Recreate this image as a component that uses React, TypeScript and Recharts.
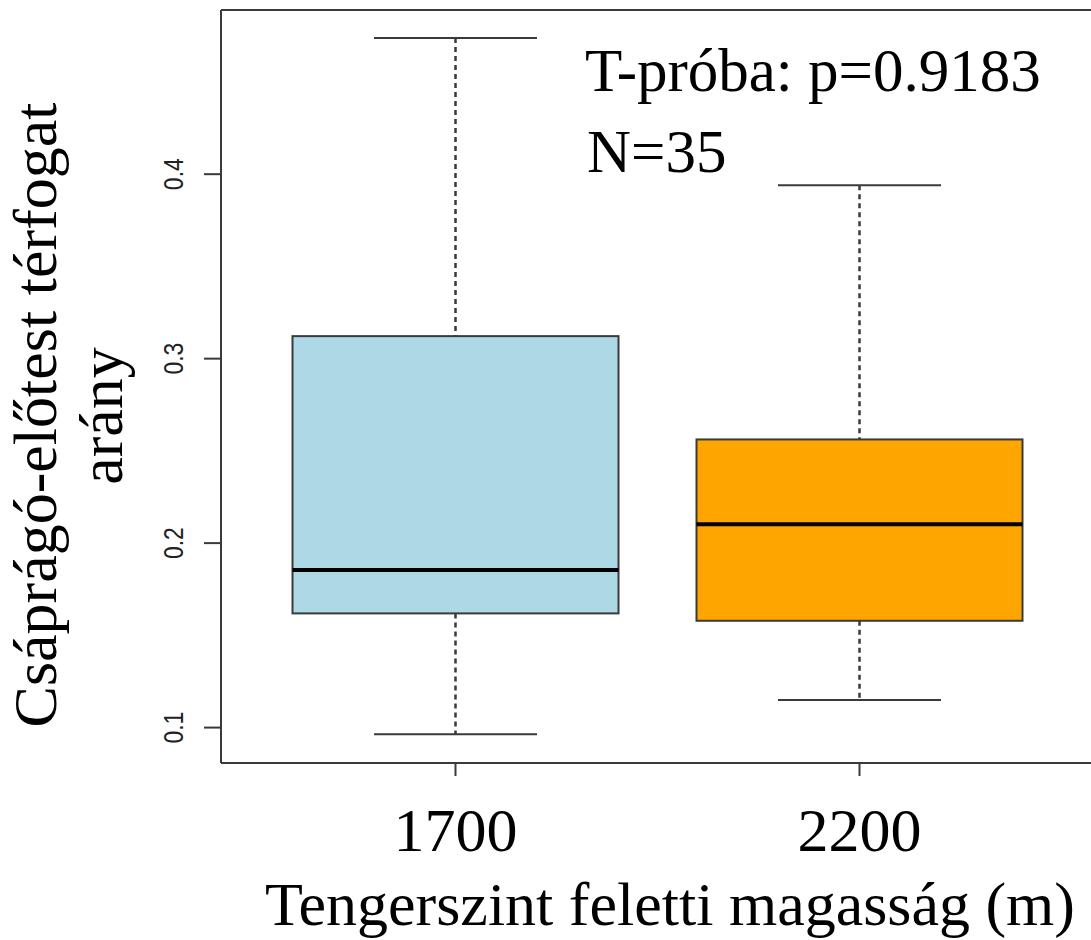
import React from 'react';
import { ComposedChart, Bar, XAxis, YAxis, Label, ReferenceLine } from 'recharts';

// box plot stats
const groups = ['1700', '2200'];
const whiskerLow = [0.0964, 0.115];
const q1 = [0.1619, 0.1579];
const median = [0.1854, 0.2102];
const q3 = [0.3122, 0.2562];
const whiskerHigh = [0.4738, 0.394];
const boxColors = ['#ADD8E6', '#FFA500'];
const yTicks = [0.1, 0.2, 0.3, 0.4];
const yDomain = [0.0808, 0.489];

const pValue = '0.9183';
const sampleSize = 35;

const SERIF = '"Liberation Serif", "Times New Roman", serif';
const SANS = '"Liberation Sans", Arial, sans-serif';
const LINE = '#3a3a3a';

const data = groups.map((g, i) => ({
    group: g,
    range: [whiskerLow[i], whiskerHigh[i]],
    q1: q1[i],
    median: median[i],
    q3: q3[i],
    fill: boxColors[i],
}));

const BoxShape = (props: any) => {
    const { x, y, width, height, payload } = props;
    const [lo, hi] = payload.range;
    const top = Math.min(y, y + height);
    const bottom = Math.max(y, y + height);
    // map a value onto the bar's pixel span (bar spans lo..hi)
    const toY = (v: number) => top + ((hi - v) / (hi - lo)) * (bottom - top);
    const cx = x + width / 2;
    const capHalf = width / 4;
    const yQ1 = toY(payload.q1);
    const yQ3 = toY(payload.q3);
    const yMed = toY(payload.median);
    return (
        <g>
            <line x1={cx} x2={cx} y1={top} y2={yQ3} stroke={LINE} strokeWidth={2.5} strokeDasharray="5 4" />
            <line x1={cx} x2={cx} y1={yQ1} y2={bottom} stroke={LINE} strokeWidth={2.5} strokeDasharray="5 4" />
            <line x1={cx - capHalf} x2={cx + capHalf} y1={top} y2={top} stroke={LINE} strokeWidth={2} />
            <line x1={cx - capHalf} x2={cx + capHalf} y1={bottom} y2={bottom} stroke={LINE} strokeWidth={2} />
            <rect x={x} y={yQ3} width={width} height={yQ1 - yQ3} fill={payload.fill} stroke={LINE} strokeWidth={2} />
            <line x1={x} x2={x + width} y1={yMed} y2={yMed} stroke="#000" strokeWidth={4} />
        </g>
    );
};

const YTick = (props: any) => {
    const { y, payload } = props;
    return (
        <text
            transform={`translate(183,${y}) rotate(-90) scale(1,1.2)`}
            textAnchor="middle"
            fontFamily={SANS}
            fontSize={23}
            fill="#222"
        >
            {payload.value}
        </text>
    );
};

const XTick = (props: any) => {
    const { x, y, payload } = props;
    return (
        <text x={x} y={y + 73} textAnchor="middle" fontFamily={SERIF} fontSize={62} fill="#000">
            {payload.value}
        </text>
    );
};

const YTitle = () => (
    <g fontFamily={SERIF} fontSize={62} fill="#000">
        <text transform="translate(56,415) rotate(-90)" textAnchor="middle">
            Csáprágó-előtest térfogat
        </text>
        <text transform="translate(122,416) rotate(-90)" textAnchor="middle">
            arány
        </text>
    </g>
);

const XTitle = () => (
    <text x={670} y={925} textAnchor="middle" fontFamily={SERIF} fontSize={62} fill="#000">
        Tengerszint feletti magasság (m)
    </text>
);

const App = () => {
    return (
        <div style={{ position: 'absolute', left: 0, top: 0, width: 1091, height: 940, overflow: 'hidden', background: '#fff' }}>
            <ComposedChart width={1100} height={940} data={data} margin={{ top: 10, right: 6, left: 0, bottom: 0 }}>
                <XAxis
                    dataKey="group"
                    height={177}
                    padding={{ left: 32.5, right: 32.5 }}
                    tickSize={13}
                    tick={<XTick />}
                    axisLine={{ stroke: LINE, strokeWidth: 2 }}
                    tickLine={{ stroke: LINE, strokeWidth: 2 }}
                >
                    <Label content={<XTitle />} />
                </XAxis>
                <YAxis
                    width={221}
                    domain={yDomain}
                    ticks={yTicks}
                    allowDataOverflow
                    tickSize={17}
                    tick={<YTick />}
                    axisLine={{ stroke: LINE, strokeWidth: 2 }}
                    tickLine={{ stroke: LINE, strokeWidth: 2 }}
                >
                    <Label content={<YTitle />} />
                </YAxis>
                <ReferenceLine y={yDomain[1]} stroke={LINE} strokeWidth={2} ifOverflow="visible" />
                <Bar dataKey="range" barSize={326} shape={<BoxShape />} isAnimationActive={false} />
            </ComposedChart>
            <svg width={1091} height={940} style={{ position: 'absolute', left: 0, top: 0, pointerEvents: 'none' }}>
                <g fontFamily={SERIF} fontSize={61} fill="#000">
                    <text x={585} y={91}>T-próba: p={pValue}</text>
                    <text x={587} y={172}>N={sampleSize}</text>
                </g>
            </svg>
        </div>
    );
};

export default App;
